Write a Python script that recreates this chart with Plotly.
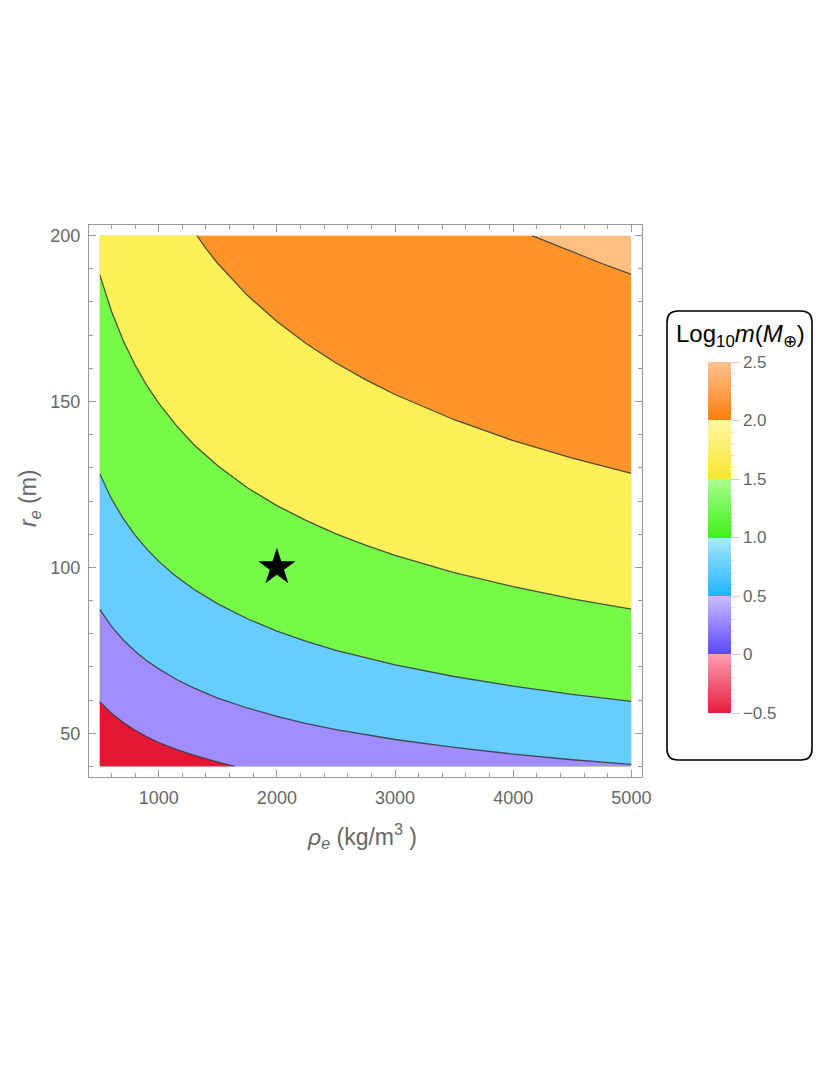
"""
Contour map of Log10 m(M_earth) over density and radius, plotly version
"""
import plotly.graph_objects as go

# ---- data ----
RHO_MIN, RHO_MAX = 500, 5000
R_MIN, R_MAX = 40, 200

# contour level -> (rho values, r values) along the drawn contour line
LEVEL_0_RHO = [500, 550, 600, 700, 800, 900, 1000, 1150, 1300, 1500, 1640]
LEVEL_0_R = [59.5, 57.6, 56.0, 53.2, 50.9, 48.9, 47.2, 45.1, 43.3, 41.3, 40.0]

GRID_RHO = [500, 550, 600, 700, 800, 900, 1000, 1150, 1300, 1500, 1750,
            2000, 2250, 2500, 2750, 3000, 3500, 4000, 4500, 5000]
LEVEL_05_R = [87.4, 84.7, 82.2, 78.1, 74.7, 71.8, 69.4, 66.2, 63.6, 60.6, 57.6,
              55.1, 52.9, 51.1, 49.5, 48.1, 45.7, 43.7, 42.0, 40.6]
LEVEL_1_R = [128.3, 124.3, 120.7, 114.7, 109.7, 105.5, 101.8, 97.2, 93.3, 89.0, 84.5,
             80.8, 77.7, 75.0, 72.7, 70.6, 67.1, 64.2, 61.7, 59.6]
LEVEL_15_R = [188.3, 182.4, 177.2, 168.3, 161.0, 154.8, 149.5, 142.7, 136.9, 130.6, 124.0,
              118.6, 114.1, 110.1, 106.7, 103.6, 98.4, 94.2, 90.5, 87.4]

LEVEL_2_RHO = [1324, 1400, 1500, 1750, 2000, 2250, 2500, 2750, 3000, 3500, 4000, 4500, 5000]
LEVEL_2_R = [200.0, 196.1, 191.6, 182.0, 174.1, 167.4, 161.6, 156.6, 152.1, 144.5, 138.2, 132.9, 128.3]

LEVEL_25_RHO = [4159, 4300, 4500, 4750, 5000]
LEVEL_25_R = [200.0, 198.0, 195.0, 191.6, 188.3]

# band colours (plot fill): below 0, 0-0.5, ..., above 2.5
BAND_COLORS = ["#E41634", "#A18DFF", "#66CDFF", "#76FA48", "#FBF055", "#FF9429", "#FFBF82"]
# legend gradient (bottom colour, top colour) of each band from -0.5 to 2.5
LEGEND_BANDS = [("#E81C3C", "#FF9DB3"), ("#5B47FF", "#CBBCFF"), ("#1CB4FF", "#A9E9FF"),
                ("#3CF214", "#AAFF92"), ("#F9E62A", "#FFF7A2"), ("#FF7E08", "#FFC292")]
CB_MIN, CB_MAX = -0.5, 2.5
CB_TICKS = [-0.5, 0, 0.5, 1.0, 1.5, 2.0, 2.5]
CB_LABELS = ["\u22120.5", "0", "0.5", "1.0", "1.5", "2.0", "2.5"]

X_TICKS = [1000, 2000, 3000, 4000, 5000]
Y_TICKS = [50, 100, 150, 200]

STAR_RHO, STAR_R = [2000], [100]

# ---- page geometry (pixels of the screenshot; the page sits 8px in) ----
W, H = 830, 1075
OFF = 8
M_L, M_T = 89 - OFF, 225 - OFF
PW, PH = 553, 552
M_R, M_B = W - M_L - PW, H - M_T - PH
PAD_X = (RHO_MAX - RHO_MIN) * 0.02
PAD_Y = (R_MAX - R_MIN) * 0.02
INSET_X = PAD_X / (RHO_MAX - RHO_MIN + 2 * PAD_X)
INSET_Y = PAD_Y / (R_MAX - R_MIN + 2 * PAD_Y)

GRAY = "#666666"
TICK_GRAY = "#999999"
FONT = "Liberation Sans, Arial, sans-serif"


def px(x):
    return (x - OFF - M_L) / PW


def py(y):
    return 1 - (y - OFF - M_T) / PH


def below(xs, ys):
    """polygon of the part of the plot region lying below a contour line"""
    xs, ys = list(xs), list(ys)
    if ys[0] >= R_MAX and xs[0] > RHO_MIN:
        xs.insert(0, RHO_MIN)
        ys.insert(0, R_MAX)
    if xs[-1] >= RHO_MAX:
        xs.append(RHO_MAX)
        ys.append(R_MIN)
    xs.append(RHO_MIN)
    ys.append(R_MIN)
    return xs, ys


curves = [
    (LEVEL_25_RHO, LEVEL_25_R),
    (LEVEL_2_RHO, LEVEL_2_R),
    (GRID_RHO, LEVEL_15_R),
    (GRID_RHO, LEVEL_1_R),
    (GRID_RHO, LEVEL_05_R),
    (LEVEL_0_RHO, LEVEL_0_R),
]

fig = go.Figure()

# top band everywhere, then each lower band painted over it
fig.add_trace(go.Scatter(
    x=[RHO_MIN, RHO_MAX, RHO_MAX, RHO_MIN], y=[R_MIN, R_MIN, R_MAX, R_MAX],
    mode="none", fill="toself", fillcolor=BAND_COLORS[6], hoverinfo="skip"))
for i, (cx, cy) in enumerate(curves):
    bx, by = below(cx, cy)
    fig.add_trace(go.Scatter(x=bx, y=by, mode="none", fill="toself",
                             fillcolor=BAND_COLORS[5 - i], hoverinfo="skip"))
for cx, cy in curves:
    fig.add_trace(go.Scatter(x=cx, y=cy, mode="lines",
                             line=dict(color="rgba(55,55,60,0.85)", width=1.3),
                             hoverinfo="skip"))

fig.add_trace(go.Scatter(x=STAR_RHO, y=STAR_R, mode="markers",
                         marker=dict(symbol="star", size=28, color="black",
                                     line=dict(width=0)),
                         hoverinfo="skip"))

# colour legend
n = len(LEGEND_BANDS)
cscale = []
for i, (lo, hi) in enumerate(LEGEND_BANDS):
    cscale.append([i / n, lo])
    cscale.append([(i + 1) / n, hi])

CB_X, CB_TOP, CB_BOT, CB_TH = 708, 362, 713, 23
fig.add_trace(go.Scatter(
    x=[None], y=[None], mode="markers", xaxis="x2", yaxis="y2", hoverinfo="skip",
    marker=dict(color=[CB_MIN], colorscale=cscale, cmin=CB_MIN, cmax=CB_MAX, showscale=True,
                colorbar=dict(
                    x=px(CB_X), xanchor="left", xpad=0,
                    y=py((CB_TOP + CB_BOT) / 2), yanchor="middle", ypad=0,
                    len=CB_BOT - CB_TOP, lenmode="pixels", thickness=CB_TH,
                    outlinewidth=0, tickvals=CB_TICKS, ticktext=CB_LABELS,
                    ticks="outside", ticklen=9, tickcolor="#d0d0d0", tickwidth=1,
                    tickfont=dict(family=FONT, size=17, color=GRAY)))))

# small in-between ticks of the legend
for k in range(31):
    v = CB_MIN + 0.1 * k
    if k % 5 == 0:
        continue
    yy = CB_BOT - (v - CB_MIN) / (CB_MAX - CB_MIN) * (CB_BOT - CB_TOP)
    fig.add_shape(type="line", xref="paper", yref="paper",
                  x0=px(CB_X + CB_TH), x1=px(CB_X + CB_TH + 4), y0=py(yy), y1=py(yy),
                  line=dict(color="#dddddd", width=1))

frame_axis = dict(showline=True, linecolor=TICK_GRAY, linewidth=1.2, mirror="ticks",
                  ticks="inside", ticklen=7, tickcolor=TICK_GRAY, tickwidth=1,
                  showgrid=False, zeroline=False, ticklabelstandoff=4,
                  tickfont=dict(family=FONT, size=18, color=GRAY))

fig.update_layout(
    width=W, height=H,
    margin=dict(l=M_L, r=M_R, t=M_T, b=M_B),
    paper_bgcolor="white", plot_bgcolor="rgba(0,0,0,0)",
    showlegend=False,
    xaxis=dict(range=[RHO_MIN, RHO_MAX], domain=[INSET_X, 1 - INSET_X], anchor="y",
               visible=False),
    yaxis=dict(range=[R_MIN, R_MAX], domain=[INSET_Y, 1 - INSET_Y], anchor="x",
               visible=False),
    xaxis2=dict(range=[RHO_MIN - PAD_X, RHO_MAX + PAD_X], domain=[0, 1], anchor="y2",
                tickvals=X_TICKS, minor=dict(dtick=200, ticks="inside", ticklen=4,
                                             tickcolor=TICK_GRAY),
                **frame_axis),
    yaxis2=dict(range=[R_MIN - PAD_Y, R_MAX + PAD_Y], domain=[0, 1], anchor="x2",
                tickvals=Y_TICKS, minor=dict(dtick=10, ticks="inside", ticklen=4,
                                             tickcolor=TICK_GRAY),
                **frame_axis),
)

# rounded box round the legend
x0, y0, x1, y1, rad = 667, 311, 812, 760, 11
path = (f"M {px(x0 + rad)},{py(y0)} L {px(x1 - rad)},{py(y0)} "
        f"Q {px(x1)},{py(y0)} {px(x1)},{py(y0 + rad)} L {px(x1)},{py(y1 - rad)} "
        f"Q {px(x1)},{py(y1)} {px(x1 - rad)},{py(y1)} L {px(x0 + rad)},{py(y1)} "
        f"Q {px(x0)},{py(y1)} {px(x0)},{py(y1 - rad)} L {px(x0)},{py(y0 + rad)} "
        f"Q {px(x0)},{py(y0)} {px(x0 + rad)},{py(y0)} Z")
fig.add_shape(type="path", path=path, xref="paper", yref="paper",
              line=dict(color="black", width=1.6))

fig.add_annotation(text="Log<sub>10</sub><i>m</i>(<i>M</i><sub>\u2295</sub>)",
                   x=px(740), y=py(335), xref="paper", yref="paper", showarrow=False,
                   xanchor="center", yanchor="middle",
                   font=dict(family=FONT, size=24, color="black"))
fig.add_annotation(text="<i>\u03c1<sub>e</sub></i> (kg/m<sup>3</sup> )",
                   x=px(362), y=py(836), xref="paper", yref="paper", showarrow=False,
                   xanchor="center", yanchor="middle",
                   font=dict(family=FONT, size=23, color=GRAY))
fig.add_annotation(text="<i>r<sub>e</sub></i> (m)", textangle=-90,
                   x=px(29), y=py(498), xref="paper", yref="paper", showarrow=False,
                   xanchor="center", yanchor="middle",
                   font=dict(family=FONT, size=23, color=GRAY))

fig.write_html("out.html")
